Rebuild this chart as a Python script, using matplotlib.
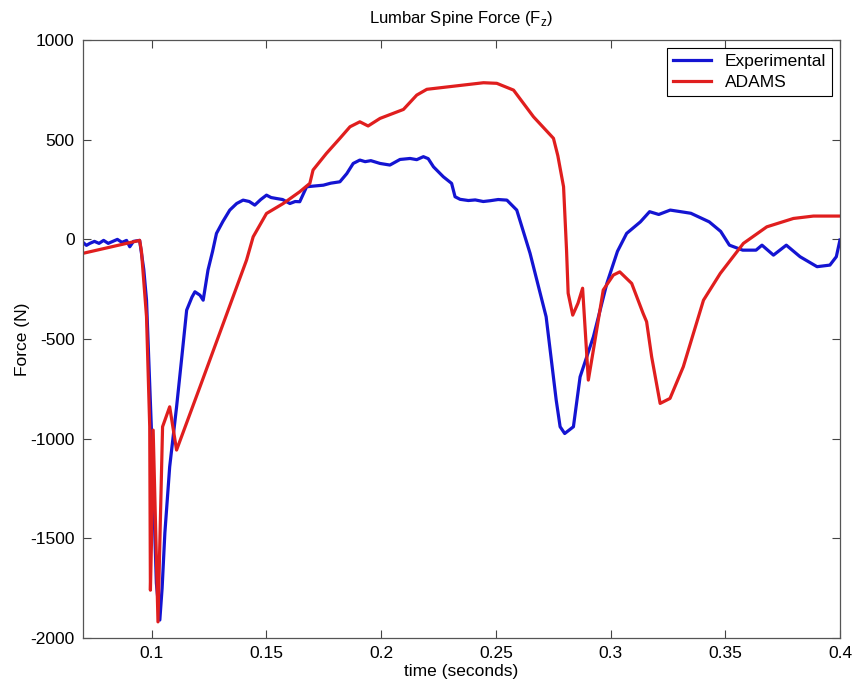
import matplotlib
matplotlib.use("Agg")
import matplotlib.pyplot as plt
from matplotlib import font_manager

# ---------------- data ----------------
exp_t = [0.070, 0.0715, 0.073, 0.075, 0.077, 0.079, 0.081, 0.083, 0.085, 0.087, 0.089, 0.0904, 0.092,
         0.0947, 0.0965, 0.0977, 0.0999, 0.102, 0.1035, 0.1045, 0.1057, 0.1078, 0.1108, 0.113,
         0.1152, 0.1175, 0.1188, 0.121, 0.1224, 0.1245, 0.1265, 0.1282, 0.131, 0.134, 0.137,
         0.1398, 0.1425, 0.1449, 0.1475, 0.150, 0.152, 0.1544, 0.157, 0.1602, 0.1625, 0.1645,
         0.1675, 0.171, 0.1748, 0.178, 0.182, 0.185, 0.1878, 0.1907, 0.193, 0.1955, 0.1995,
         0.2038, 0.2082, 0.2126, 0.2155, 0.2184, 0.2205, 0.2228, 0.2271, 0.2307, 0.2322, 0.2344,
         0.238, 0.241, 0.2445, 0.2475, 0.251, 0.2548, 0.2591, 0.2649, 0.2719, 0.2763, 0.278,
         0.280, 0.2838, 0.2867, 0.2925, 0.2984, 0.303, 0.307, 0.313, 0.317, 0.321, 0.326,
         0.330, 0.335, 0.343, 0.348, 0.3518, 0.3576, 0.3634, 0.366, 0.371, 0.3766, 0.3826,
         0.390, 0.3956, 0.3984, 0.400]
exp_f = [-15, -30, -20, -10, -20, -5, -20, -10, 0, -15, -5, -37, -10,
         -5, -150, -304, -972, -1725, -1910, -1750, -1473, -1141, -841, -600,
         -355, -290, -263, -280, -305, -154, -60, 30, 90, 147, 180,
         197, 190, 172, 200, 222, 210, 205, 200, 180, 190, 189,
         264, 268, 272, 282, 289, 330, 381, 398, 390, 395, 381,
         373, 401, 406, 400, 415, 405, 364, 314, 281, 214, 201,
         195, 198, 190, 194, 200, 197, 147, -70, -388, -807, -940,
         -974, -940, -690, -489, -220, -60, 30, 88, 139, 125, 147,
         140, 131, 88, 40, -29, -54, -54, -29, -79, -29, -87,
         -137, -129, -87, -3]

adams_t = [0.070, 0.0947, 0.0955, 0.0977, 0.0991, 0.0994, 0.0999, 0.1006, 0.1027, 0.1047,
           0.1078, 0.1108, 0.121, 0.1353, 0.1413, 0.1442, 0.150, 0.1573, 0.1645, 0.1689,
           0.1703, 0.1761, 0.182, 0.1864, 0.1907, 0.1943, 0.1995, 0.2097, 0.2155, 0.2199,
           0.2446, 0.2504, 0.2577, 0.2664, 0.2751, 0.277, 0.2795, 0.2808, 0.2815, 0.2835,
           0.2858, 0.2878, 0.2903, 0.2925, 0.2968, 0.3012, 0.304, 0.3092, 0.3142, 0.3157,
           0.3179, 0.3216, 0.3259, 0.3317, 0.3405, 0.3478, 0.3579, 0.3681, 0.3797, 0.3884,
           0.400]
adams_f = [-70, -5, -60, -388, -940, -1760, -1500, -957, -1919, -940,
           -840, -1057, -740, -292, -104, 13, 130, 180, 239, 281,
           348, 431, 507, 565, 590, 569, 607, 652, 724, 753,
           786, 783, 749, 615, 507, 420, 264, -54, -270, -380,
           -320, -245, -706, -555, -254, -179, -163, -221, -372, -413,
           -589, -823, -798, -639, -305, -171, -20, 63, 105, 117,
           117]

x_ticks = [0.1, 0.15, 0.2, 0.25, 0.3, 0.35, 0.4]
x_tick_labels = ["0.1", "0.15", "0.2", "0.25", "0.3", "0.35", "0.4"]
y_ticks = [-2000, -1500, -1000, -500, 0, 500, 1000]
y_tick_labels = ["-2000", "-1500", "-1000", "-500", "0", "500", "1000"]

# ---------------- style ----------------
avail = {f.name for f in font_manager.fontManager.ttflist}
fam = "Liberation Sans Narrow" if "Liberation Sans Narrow" in avail else "Liberation Sans"
plt.rcParams['font.family'] = [fam, 'DejaVu Sans']

fig = plt.figure(figsize=(8.58, 6.91), dpi=100)
ax = fig.add_axes([0.0967, 0.0767, 0.979 - 0.0967, 0.942 - 0.0767])

ax.plot(exp_t, exp_f, color='#1414d2', lw=2.3, label='Experimental')
ax.plot(adams_t, adams_f, color='#e01e1e', lw=2.3, label='ADAMS')

ax.set_xlim(0.07, 0.4)
ax.set_ylim(-2000, 1000)
ax.set_xticks(x_ticks)
ax.set_xticklabels(x_tick_labels)
ax.set_yticks(y_ticks)
ax.set_yticklabels(y_tick_labels)
ax.tick_params(direction='in', top=True, right=True, length=6, width=0.8,
               color='#444444', labelsize=12.5, pad=6)
for s in ax.spines.values():
    s.set_color('#555555')
    s.set_linewidth(0.9)

ax.set_title('Lumbar Spine Force (F$_\\mathregular{z}$)', fontsize=12, pad=12)
ax.set_xlabel('time (seconds)', fontsize=12.5, labelpad=2)
ax.set_ylabel('Force (N)', fontsize=12.5, labelpad=0)

leg = ax.legend(loc='upper right', fontsize=12.5, frameon=True, fancybox=False,
                edgecolor='black', framealpha=1, borderpad=0.35, handlelength=2.2,
                labelspacing=0.35, borderaxespad=0.45)
leg.get_frame().set_linewidth(0.8)

fig.savefig('out.png', dpi=100)
